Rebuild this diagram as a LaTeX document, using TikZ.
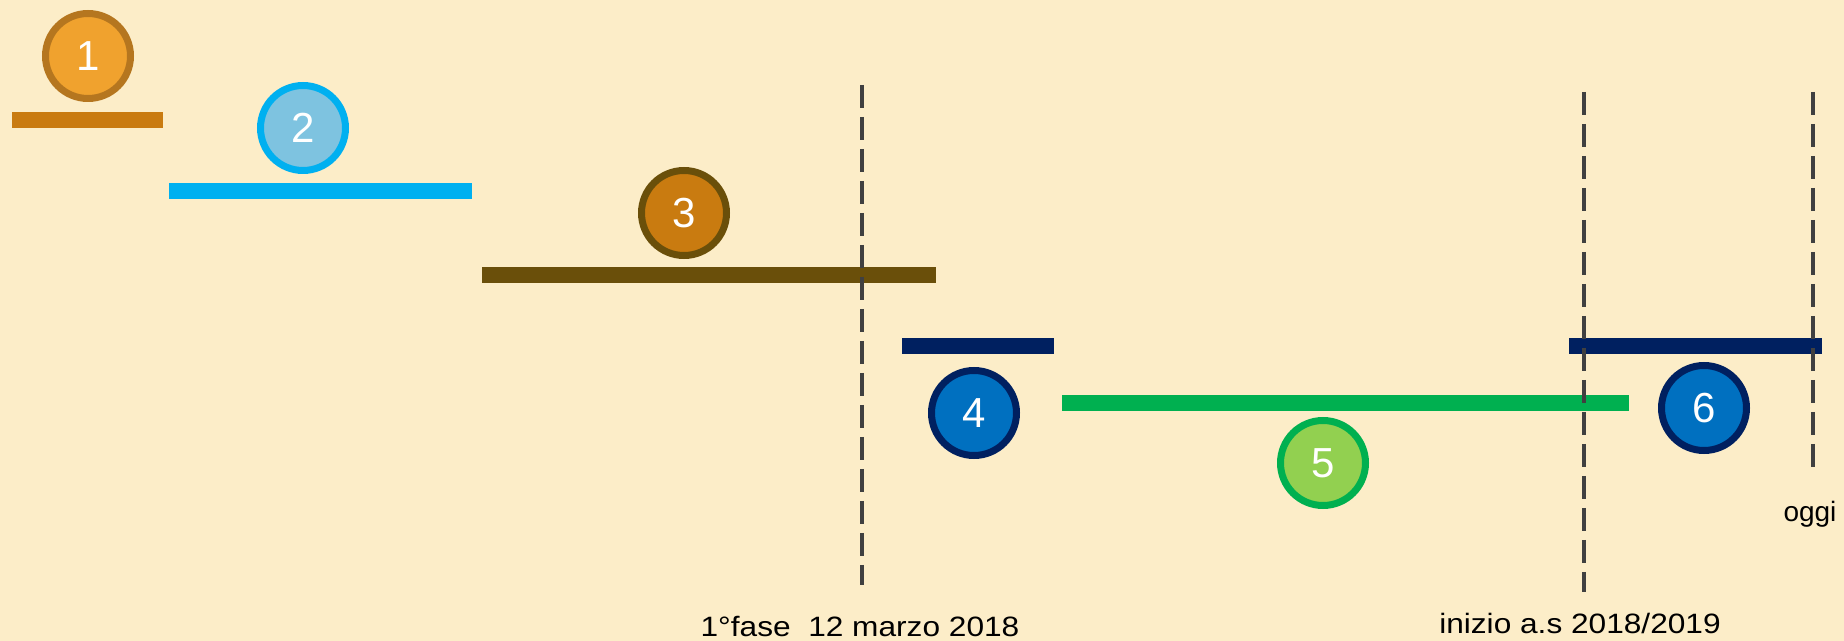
\documentclass[tikz,border=0pt]{standalone}
\usepackage{fontspec}
\setmainfont{Liberation Sans}
\definecolor{bg}{HTML}{FCEDC8}
\definecolor{oneFill}{HTML}{F0A22E}
\definecolor{oneRim}{HTML}{B5761F}
\definecolor{oneBar}{HTML}{C97B10}
\definecolor{twoFill}{HTML}{7EC3E0}
\definecolor{twoRim}{HTML}{00B0F0}
\definecolor{threeFill}{HTML}{C97B10}
\definecolor{threeRim}{HTML}{6A4F0A}
\definecolor{navy}{HTML}{002060}
\definecolor{blueFill}{HTML}{0070C0}
\definecolor{greenBar}{HTML}{00B050}
\definecolor{greenFill}{HTML}{92D050}
\definecolor{markGray}{HTML}{404040}
\begin{document}
\begin{tikzpicture}[x=0.5pt,y=-0.5pt,
  stage/.style={circle, line width=3.5pt, minimum size=42.5pt, inner sep=0pt,
    text=white, font=\fontsize{21}{21}\selectfont},
  bar/.style={line width=8pt},
  marker/.style={draw=markGray, line width=2pt, dash pattern=on 11.5pt off 4.5pt},
  datelabel/.style={font=\fontsize{14}{14}\selectfont, anchor=base, inner sep=0pt, text=black}]
  % canvas
  \fill[bg] (0,0) rectangle (1844,641);
  \useasboundingbox (0,0) rectangle (1844,641);

  % phase bars
  \draw[bar, oneBar]   (12,120)  -- (163,120);
  \draw[bar, twoRim]   (169,191) -- (472,191);
  \draw[bar, threeRim] (482,275) -- (936,275);
  \draw[bar, navy]     (902,346) -- (1054,346);
  \draw[bar, greenBar] (1062,403) -- (1629,403);
  \draw[bar, navy]     (1569,346) -- (1822,346);

  % milestone markers
  \coordinate (m1top) at (862,85);   \coordinate (m1bot) at (862,585);
  \coordinate (m2top) at (1584,92);  \coordinate (m2bot) at (1584,592);
  \coordinate (m3top) at (1813,92);  \coordinate (m3bot) at (1813,470);
  \draw[marker] (m1top) -- (m1bot);
  \draw[marker] (m2top) -- (m2bot);
  \draw[marker] (m3top) -- (m3bot);

  % numbered phases
  \node[stage, fill=oneFill,   draw=oneRim]   (s1) at (88,56)    {1};
  \node[stage, fill=twoFill,   draw=twoRim]   (s2) at (303,128)  {2};
  \node[stage, fill=threeFill, draw=threeRim] (s3) at (684,213)  {3};
  \node[stage, fill=blueFill,  draw=navy]     (s4) at (974,413)  {4};
  \node[stage, fill=greenFill, draw=greenBar] (s5) at (1323,463) {5};
  \node[stage, fill=blueFill,  draw=navy]     (s6) at (1704,408) {6};

  % marker labels
  \node[datelabel] (l1) at (860,637) {\scalebox{1.13}[1]{1°fase\ \ 12 marzo 2018}};
  \node[datelabel] (l2) at (1580,634) {\scalebox{1.13}[1]{inizio a.s 2018/2019}};
  \node[datelabel] (l3) at (1810,522) {oggi};
\end{tikzpicture}
\end{document}
